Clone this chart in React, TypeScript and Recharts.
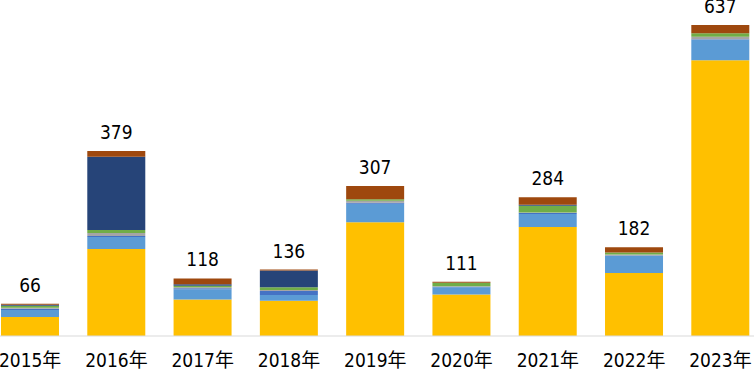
import { Bar, BarChart, LabelList, XAxis, YAxis } from "recharts";

// 年份 + 各分项 (自下而上堆叠)
const years = ["2015年", "2016年", "2017年", "2018年", "2019年", "2020年", "2021年", "2022年", "2023年"];
const yellow = [39, 178, 75, 72, 233, 85, 223, 129, 565];
const lightBlue = [14, 25, 21, 12, 38, 15, 27, 35, 42];
const blue = [3, 2, 2, 8, 2, 1, 2, 1, 1];
const gray = [2, 6, 2, 2, 4, 1, 1, 2, 5];
const green = [4, 6, 3, 6, 3, 7, 14, 4, 7];
const navy = [2, 150, 3, 34, 0, 0, 2, 0, 0];
const brown = [2, 12, 12, 2, 27, 2, 15, 11, 17];
const totals = [66, 379, 118, 136, 307, 111, 284, 182, 637];

const data = years.map((year, i) => ({
  year,
  yellow: yellow[i],
  lightBlue: lightBlue[i],
  blue: blue[i],
  gray: gray[i],
  green: green[i],
  navy: navy[i],
  brown: brown[i],
  total: totals[i],
}));

const series = [
  { key: "yellow", color: "#FFC000" },
  { key: "lightBlue", color: "#5B9BD5" },
  { key: "blue", color: "#4472C4" },
  { key: "gray", color: "#A5A5A5" },
  { key: "green", color: "#70AD47" },
  { key: "navy", color: "#264478" },
  { key: "brown", color: "#9E480E" },
];

const font = "'Liberation Sans Narrow', 'DejaVu Sans Condensed', 'Noto Sans CJK SC', sans-serif";

export default function App() {
  return (
    <div style={{ position: "fixed", left: 0, top: 0, width: 754, height: 371, overflow: "hidden", background: "#fff" }}>
      <div style={{ position: "absolute", left: -12.6, top: 0 }}>
        <BarChart width={776.6} height={371} data={data} margin={{ top: 4, right: 0, left: 0, bottom: 0 }}>
          <XAxis
            dataKey="year"
            height={35}
            axisLine={{ stroke: "#d9d9d9" }}
            tickLine={false}
            tickMargin={12}
            interval={0}
            tick={{ fill: "#000", fontSize: 19, fontFamily: font }}
          />
          <YAxis hide domain={[0, 680]} />
          {series.map((s, i) => (
            <Bar key={s.key} dataKey={s.key} stackId="a" fill={s.color} barSize={58} isAnimationActive={false}>
              {i === series.length - 1 && (
                <LabelList dataKey="total" position="top" offset={12} fill="#000" fontSize={19} fontFamily={font} />
              )}
            </Bar>
          ))}
        </BarChart>
      </div>
    </div>
  );
}
